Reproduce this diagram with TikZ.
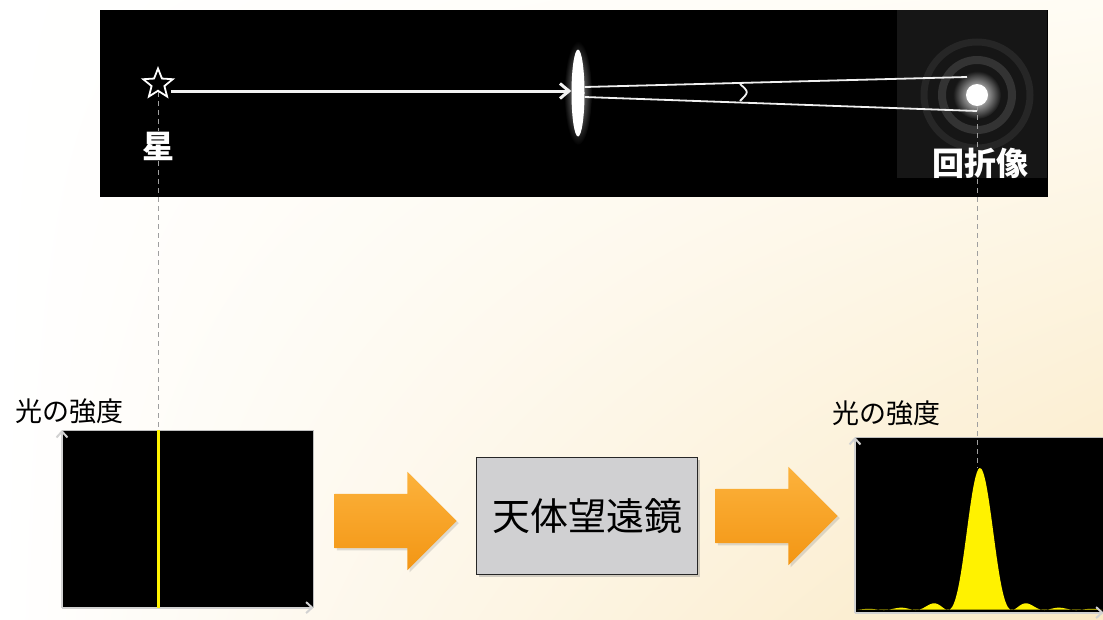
\documentclass[tikz,border=0pt]{standalone}
\usepackage{fontspec}
\newfontfamily\jp{Noto Sans CJK JP}
\usetikzlibrary{shapes.geometric,shapes.arrows,shadows,shadings,arrows.meta}

\definecolor{cream}{RGB}{250,233,196}
\definecolor{paleCream}{RGB}{255,252,244}
\definecolor{orangeTop}{RGB}{252,178,60}
\definecolor{orangeBot}{RGB}{243,150,20}
\definecolor{boxgray}{RGB}{208,208,210}
\definecolor{peakyellow}{RGB}{255,242,0}
\definecolor{imgbg}{RGB}{22,22,22}

\tikzset{
  panel/.style={rectangle, fill=black, draw=none, anchor=north west, inner sep=0},
  plotbox/.style={rectangle, fill=black, draw=gray!50, line width=0.6pt, anchor=north west, inner sep=0},
  plotaxis/.style={gray!35, line width=2pt, -{Straight Barb[length=6pt,width=11pt]}},
  guide/.style={gray!75, line width=0.9pt, dash pattern=on 5pt off 4pt},
  bigarrow/.style={single arrow, inner xsep=0pt, inner ysep=27pt, minimum height=122pt,
    single arrow head extend=22pt, draw=none, top color=orangeTop, bottom color=orangeBot,
    drop shadow={opacity=0.25}},
  whitetext/.style={text=white, inner sep=1pt, font=\jp\bfseries\fontsize{32}{32}\selectfont},
  axislabel/.style={inner sep=0, font=\jp\fontsize{27}{27}\selectfont},
  beam/.style={white!88!gray, line width=1.8pt},
}

\begin{document}
\begin{tikzpicture}[x=1pt, y=-1pt]
\useasboundingbox (0,0) rectangle (1103,619);
\shade[upper left=white, lower left=white, upper right=paleCream, lower right=cream]
  (0,0) rectangle (1103,619);

% star and telescope panel
\node (sky) [panel, minimum width=948pt, minimum height=187pt] at (100,10) {};
\fill[imgbg] (897,10) rectangle (1047,178);

\node (star) [star, star points=5, star point ratio=2.3, draw=white, line width=1.8pt,
  minimum size=31pt, inner sep=0] at (158,84) {};
\node (starLabel) [whitetext] at (158,146) {星};
\coordinate (rayStart) at (171,91);

% lens with a soft glow
\shade[inner color=white!60!black, outer color=black] (578,93) ellipse (14 and 52);
\node (lens) [ellipse, fill=white, minimum width=13pt, minimum height=87pt, inner sep=0] at (578,93) {};
\draw[white!90!gray, line width=3pt, -{Straight Barb[length=9pt,width=15pt]}] (rayStart) -- (rayStart -| lens.west);

% diffraction rings and central spot
\draw[white!20!black, line width=8pt] (977,95) circle (35);
\draw[white!15!black, line width=7pt] (977,95) circle (53);
\shade[inner color=white, outer color=imgbg] (977,95) circle (24);
\node (spot) [circle, fill=white, minimum size=22pt, inner sep=0] at (977,95) {};
\coordinate (beamTop) at (967,77);
\coordinate (beamBot) at (977,111);
\draw[beam] (lens.east |- 0,87) -- (beamTop);
\draw[beam] (lens.east |- 0,97) -- (beamBot);
\draw[beam] (740,84) .. controls (749,92) .. (740,101);
\node (diffLabel) [whitetext] at (980,163) {回折像};

% left intensity plot
\node (leftLabel) [axislabel] at (70,411) {光の強度};
\node (leftPlot) [plotbox, minimum width=251pt, minimum height=177pt] at (62,430) {};
\draw[plotaxis] (leftPlot.south west) -- (leftPlot.north west);
\draw[plotaxis] (leftPlot.south west) -- (leftPlot.south east);
\draw[peakyellow, line width=3pt] (leftPlot.north -| star) -- (leftPlot.south -| star);

% telescope block between the arrows
\node (arrowIn) [bigarrow] at (382,521) {};
\node (scope) [rectangle, draw=black!85, line width=1.6pt, fill=boxgray, minimum width=221pt,
  minimum height=117pt, drop shadow={opacity=0.35}, font=\jp\fontsize{38}{38}\selectfont] at (587,516) {天体望遠鏡};
\node (arrowOut) [bigarrow] at (763,516) {};

% right intensity plot: main lobe and side lobes
\node (rightLabel) [axislabel] at (886,413) {光の強度};
\node (rightPlot) [plotbox, minimum width=248pt, minimum height=175pt] at (855,437) {};
\fill[peakyellow] plot[domain=-12:12, samples=200] ({980+10.2*\x}, {610-142*(sin(\x r)/\x)^2}) -- cycle;
\draw[plotaxis] (rightPlot.south west) -- (rightPlot.north west);
\draw[plotaxis] (rightPlot.south west) -- (rightPlot.south east);
\coordinate (peakTop) at (980,468);

% guide lines linking the sky to the plots
\draw[guide] (star.south) -- (starLabel.north);
\draw[guide] (starLabel.south) -- (leftPlot.north -| star);
\draw[guide] (spot.south) -- (diffLabel.north -| spot);
\draw[guide] (diffLabel.south -| spot) -- (peakTop -| spot);
\end{tikzpicture}
\end{document}
